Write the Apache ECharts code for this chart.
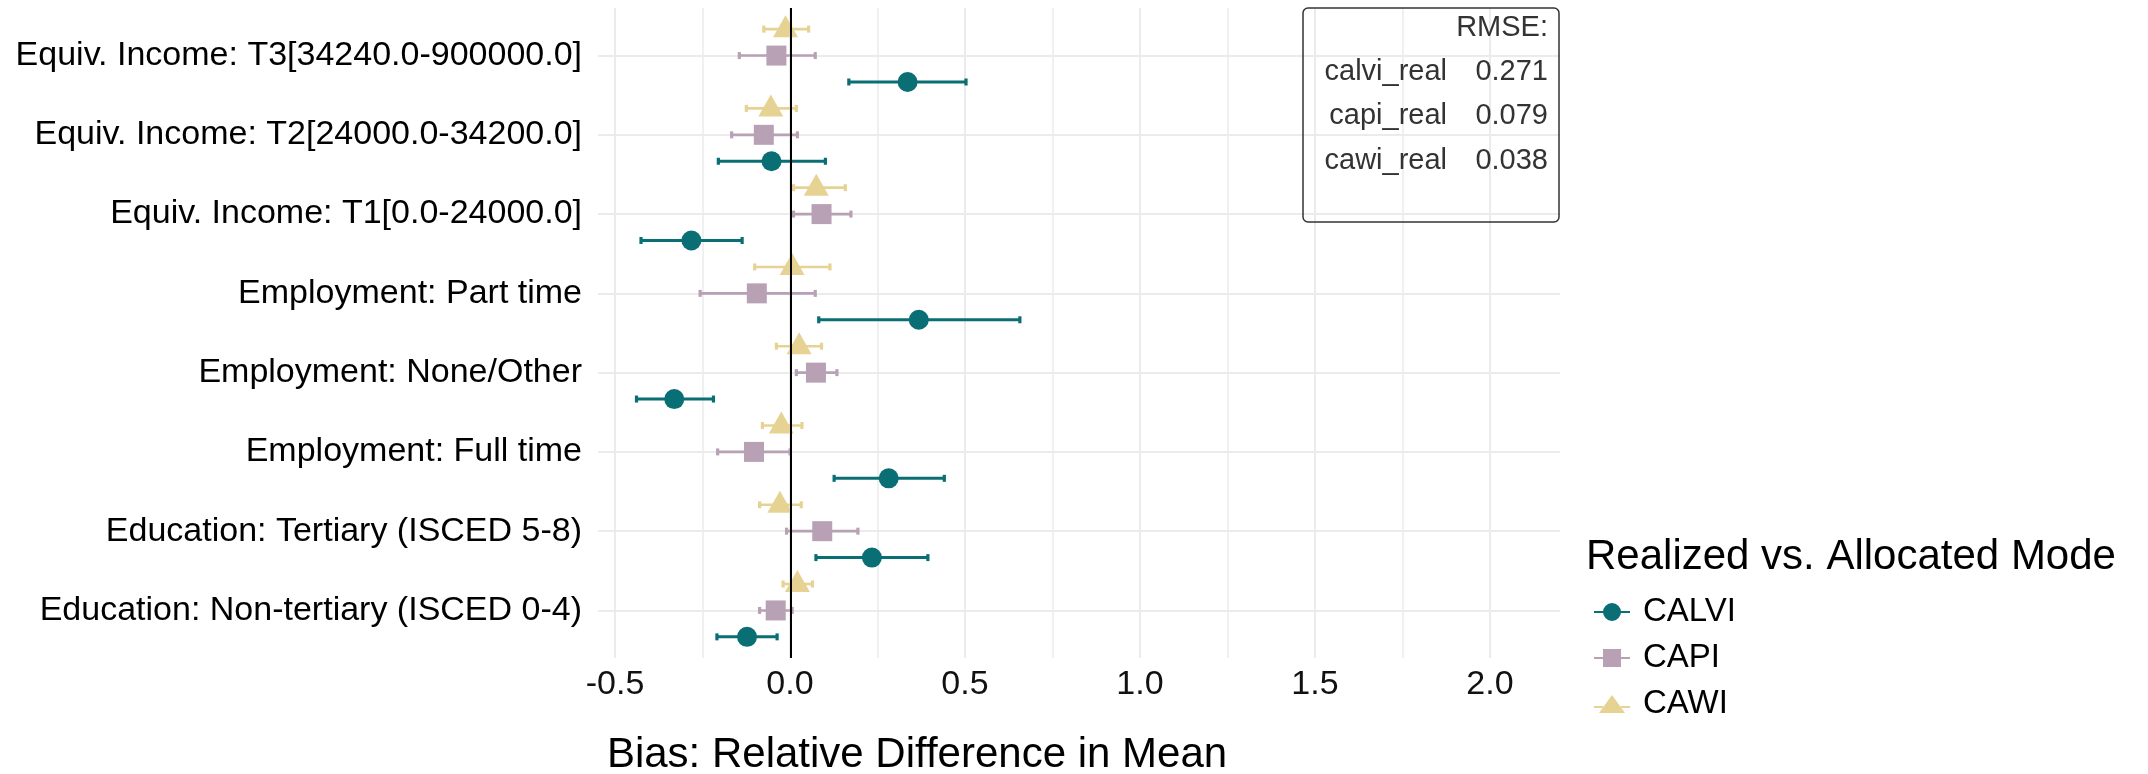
<!DOCTYPE html>
<html>
<head>
<meta charset="utf-8">
<script src="https://cdn.jsdelivr.net/npm/echarts@6/dist/echarts.min.js"></script>
<style>
html,body{margin:0;padding:0;background:#fff;}
#chart{width:2148px;height:774px;}
</style>
</head>
<body>
<div id="chart"></div>
<script>
// ---- data (top to bottom) ----
const categories = [
  "Equiv. Income: T3[34240.0-900000.0]",
  "Equiv. Income: T2[24000.0-34200.0]",
  "Equiv. Income: T1[0.0-24000.0]",
  "Employment: Part time",
  "Employment: None/Other",
  "Employment: Full time",
  "Education: Tertiary (ISCED 5-8)",
  "Education: Non-tertiary (ISCED 0-4)"
];
const seriesNames = ["CALVI", "CAPI", "CAWI"];
const calviEst = [0.335, -0.054, -0.283, 0.367, -0.332, 0.281, 0.233, -0.124];
const calviLo  = [0.167, -0.206, -0.427, 0.081, -0.440, 0.125, 0.073, -0.210];
const calviHi  = [0.502,  0.100, -0.138, 0.656, -0.220, 0.440, 0.393, -0.038];
const capiEst  = [-0.040, -0.076, 0.089, -0.096, 0.073, -0.104, 0.091, -0.042];
const capiLo   = [-0.146, -0.168, 0.009, -0.258, 0.017, -0.208, -0.011, -0.088];
const capiHi   = [ 0.071,  0.020, 0.173,  0.071, 0.133, -0.001, 0.193,  0.005];
const cawiEst  = [-0.014, -0.056, 0.074, 0.005, 0.025, -0.026, -0.030, 0.020];
const cawiLo   = [-0.076, -0.126, 0.009, -0.102, -0.040, -0.080, -0.088, -0.021];
const cawiHi   = [ 0.052,  0.017, 0.157, 0.113, 0.089, 0.033, 0.031, 0.063];
const xTicks = [-0.5, 0.0, 0.5, 1.0, 1.5, 2.0];
const rmseLabels = ["calvi_real", "capi_real", "cawi_real"];
const rmseValues = ["0.271", "0.079", "0.038"];
const legendTitle = "Realized vs. Allocated Mode";
const xTitle = "Bias: Relative Difference in Mean";

// ---- styling ----
const FONT = '"Liberation Sans", Arial, Helvetica, sans-serif';
const colors = {CALVI: '#0a6e75', CAPI: '#b8a1b5', CAWI: '#e6d393'};
const dodge = {CALVI: 1/3, CAPI: 0, CAWI: -1/3};
const symbols = {CALVI: 'circle', CAPI: 'rect', CAWI: 'triangle'};
const symSizes = {CALVI: 20, CAPI: 20, CAWI: [25, 22]};
const symOffsets = {CALVI: [0,0], CAPI: [0,0], CAWI: [0,-3]};
const barWidths = {CALVI: 3, CAPI: 2.6, CAWI: 2.6};
const est = {CALVI: calviEst, CAPI: capiEst, CAWI: cawiEst};
const lo = {CALVI: calviLo, CAPI: capiLo, CAWI: cawiLo};
const hi = {CALVI: calviHi, CAPI: capiHi, CAWI: cawiHi};

const PANEL_L = 598, PANEL_R = 1560, PANEL_T = 8, PANEL_B = 658;
const W = 2148, H = 774;

function errorBarRender(color, lw) {
  return function (params, api) {
    const y = api.value(2);
    const p1 = api.coord([api.value(0), y]);
    const p2 = api.coord([api.value(1), y]);
    const c = 3.5;
    return {
      type: 'group',
      children: [
        {type: 'line', shape: {x1: p1[0], y1: p1[1], x2: p2[0], y2: p2[1]}, style: {stroke: color, lineWidth: lw}},
        {type: 'line', shape: {x1: p1[0], y1: p1[1] - c, x2: p1[0], y2: p1[1] + c}, style: {stroke: color, lineWidth: 3.2}},
        {type: 'line', shape: {x1: p2[0], y1: p2[1] - c, x2: p2[0], y2: p2[1] + c}, style: {stroke: color, lineWidth: 3.2}}
      ]
    };
  };
}

const series = [];
seriesNames.forEach(function (name) {
  series.push({
    name: name,
    type: 'custom',
    xAxisIndex: 0, yAxisIndex: 0,
    z: 2,
    renderItem: errorBarRender(colors[name], barWidths[name]),
    encode: {x: [0, 1], y: 2},
    data: categories.map(function (c, i) { return [lo[name][i], hi[name][i], i + 1 + dodge[name]]; }),
    silent: true
  });
});
seriesNames.forEach(function (name) {
  series.push({
    name: name,
    type: 'scatter',
    xAxisIndex: 0, yAxisIndex: 0,
    z: 3,
    symbol: symbols[name],
    symbolSize: symSizes[name],
    symbolOffset: symOffsets[name],
    itemStyle: {color: colors[name], opacity: 1},
    data: categories.map(function (c, i) { return [est[name][i], i + 1 + dodge[name]]; }),
    silent: true
  });
});
series.push({
  type: 'line',
  xAxisIndex: 0, yAxisIndex: 0,
  z: 5,
  data: [],
  markLine: {
    silent: true,
    symbol: ['none', 'none'],
    label: {show: false},
    lineStyle: {color: '#000', width: 2, type: 'solid'},
    data: [{xAxis: 0}]
  }
});

const legendIcons = {
  CALVI: 'path://M0,8L9.2,8L9.2,10L0,10Z M26.8,8L36,8L36,10L26.8,10Z M9,9A9,9 0 1,1 27,9A9,9 0 1,1 9,9Z',
  CAPI: 'path://M0,8L9.2,8L9.2,10L0,10Z M26.8,8L36,8L36,10L26.8,10Z M9,0L27,0L27,18L9,18Z',
  CAWI: 'path://M0,11L9.2,11L9.2,13L0,13Z M26.8,11L36,11L36,13L26.8,13Z M5,18L31,18L18,0Z'
};

const graphics = [
  {type: 'rect', shape: {x: 1303, y: 8, width: 256, height: 214, r: 5},
   style: {fill: 'none', stroke: '#333333', lineWidth: 1.5}, z: 10},
  {type: 'text', x: 1548, y: 28, z: 10,
   style: {text: 'RMSE:', font: '29px ' + FONT, fill: '#333333', align: 'right', verticalAlign: 'middle', textAlign: 'right', textVerticalAlign: 'middle'}},
  {type: 'text', x: 917, y: 755, z: 10,
   style: {text: xTitle, font: '42px ' + FONT, fill: '#000', align: 'center', verticalAlign: 'middle', textAlign: 'center', textVerticalAlign: 'middle'}},
  {type: 'text', x: 1586, y: 557, z: 10,
   style: {text: legendTitle, font: '42px ' + FONT, fill: '#000', align: 'left', verticalAlign: 'middle', textAlign: 'left', textVerticalAlign: 'middle'}}
];
const rowY = [72, 116, 161];
rmseLabels.forEach(function (lab, i) {
  graphics.push({type: 'text', x: 1447, y: rowY[i], z: 10,
    style: {text: lab, font: '29px ' + FONT, fill: '#333333', align: 'right', verticalAlign: 'middle', textAlign: 'right', textVerticalAlign: 'middle'}});
  graphics.push({type: 'text', x: 1548, y: rowY[i], z: 10,
    style: {text: rmseValues[i], font: '29px ' + FONT, fill: '#333333', align: 'right', verticalAlign: 'middle', textAlign: 'right', textVerticalAlign: 'middle'}});
});

const option = {
  backgroundColor: '#ffffff',
  animation: false,
  textStyle: {fontFamily: FONT},
  grid: [
    {left: PANEL_L, right: W - PANEL_R, top: PANEL_T, bottom: H - PANEL_B, containLabel: false},
    {left: 615, right: W - 1490, top: PANEL_T, bottom: H - PANEL_B, containLabel: false},
    {left: PANEL_L, right: W - PANEL_R, top: 55.6, bottom: H - 610.4, containLabel: false}
  ],
  xAxis: [
    {type: 'value', gridIndex: 0, min: -0.55, max: 2.2, show: false},
    {type: 'value', gridIndex: 1, min: xTicks[0], max: xTicks[xTicks.length - 1], interval: 0.5,
     axisLine: {show: false}, axisTick: {show: false},
     axisLabel: {fontSize: 34, color: '#111', margin: 10, fontFamily: FONT,
                 formatter: function (v) { return v.toFixed(1); }},
     splitLine: {show: true, lineStyle: {color: '#ebebeb', width: 2}},
     minorTick: {show: false, splitNumber: 2},
     minorSplitLine: {show: true, lineStyle: {color: '#ebebeb', width: 1.5}}},
    {type: 'value', gridIndex: 2, min: 0, max: 1, show: false}
  ],
  yAxis: [
    {type: 'value', gridIndex: 0, min: 0.4, max: 8.6, inverse: true, show: false},
    {type: 'value', gridIndex: 1, min: 0, max: 1, show: false},
    {type: 'category', gridIndex: 2, data: categories, inverse: true, boundaryGap: false,
     axisLine: {show: false}, axisTick: {show: false},
     axisLabel: {interval: 0, fontSize: 34, color: '#000', margin: 16, fontFamily: FONT, align: 'right'},
     splitLine: {show: true, interval: 0, lineStyle: {color: '#ebebeb', width: 2}}}
  ],
  legend: {
    orient: 'vertical',
    left: 1589,
    top: 589,
    itemWidth: 36,
    itemHeight: 18,
    itemGap: 10,
    selectedMode: false,
    textStyle: {fontSize: 33, color: '#000', fontFamily: FONT, lineHeight: 36, padding: [0, 0, 0, 8]},
    data: seriesNames.map(function (n) { return {name: n, icon: legendIcons[n], itemStyle: {color: colors[n]}}; })
  },
  graphic: graphics,
  series: series
};

const chart = echarts.init(document.getElementById('chart'), null, {renderer: 'canvas', width: W, height: H});
chart.setOption(option);
</script>
</body>
</html>
